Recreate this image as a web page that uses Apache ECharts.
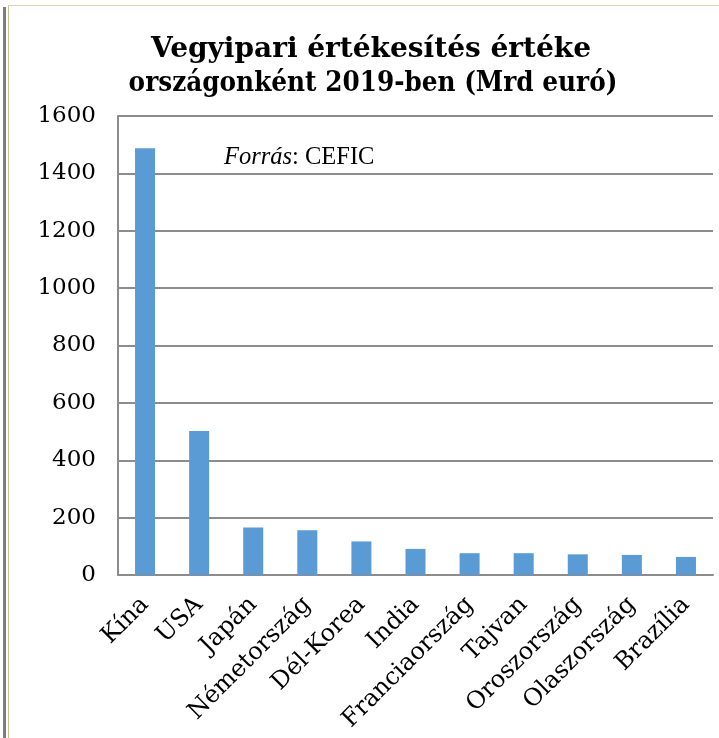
<!DOCTYPE html>
<html>
<head>
<meta charset="utf-8">
<script src="https://cdn.jsdelivr.net/npm/echarts@6/dist/echarts.min.js"></script>
<style>
html,body{margin:0;padding:0;background:#fff;}
#chart{width:719px;height:738px;}
</style>
</head>
<body>
<div id="chart"></div>
<script>
const titleLines = ['Vegyipari értékesítés értéke', 'országonként 2019-ben (Mrd euró)'];
const categories = ['Kína','USA','Japán','Németország','Dél-Korea','India','Franciaország','Tajvan','Oroszország','Olaszország','Brazília'];
const values = [1488, 502, 166, 156, 117, 91, 76, 76, 72, 70, 63];
const yTicks = [0, 200, 400, 600, 800, 1000, 1200, 1400, 1600];

const titleFont = {fontFamily: 'DejaVu Serif', fontWeight: 'bold', fontSize: 28, fill: '#000', align: 'center', verticalAlign: 'middle'};

const chart = echarts.init(document.getElementById('chart'), null, {renderer:'canvas'});
chart.setOption({
  animation: false,
  backgroundColor: '#ffffff',
  grid: {left: 118, right: 6, top: 116, bottom: 163, containLabel: false},
  xAxis: {
    type: 'category',
    data: categories,
    axisLine: {show: true, lineStyle: {color: '#8c8c8c', width: 2}},
    axisTick: {show: false},
    axisLabel: {interval: 0, rotate: 45, margin: 26, verticalAlign: 'middle', fontFamily: 'DejaVu Serif', fontSize: 24, color: '#000'}
  },
  yAxis: {
    type: 'value',
    min: yTicks[0],
    max: yTicks[yTicks.length - 1],
    interval: 200,
    axisLine: {show: true, lineStyle: {color: '#8c8c8c', width: 2}},
    axisTick: {show: false},
    splitLine: {show: true, lineStyle: {color: '#8c8c8c', width: 2}},
    axisLabel: {margin: 22, fontFamily: 'DejaVu Serif', fontSize: 23, color: '#000', formatter: v => String(v)}
  },
  series: [{
    type: 'bar',
    data: values,
    barWidth: '37%',
    itemStyle: {color: '#5b9bd5'}
  }],
  graphic: [
    {type: 'rect', shape: {x: 3, y: 7, width: 3, height: 731}, style: {fill: '#7f7f7f'}},
    {type: 'rect', shape: {x: 8, y: 6, width: 1, height: 732}, style: {fill: '#c9c19a'}},
    {type: 'rect', shape: {x: 8, y: 5, width: 711, height: 1}, style: {fill: '#d9d3b8'}},
    {type: 'text', x: 371, y: 50, style: Object.assign({text: titleLines[0]}, titleFont)},
    {type: 'text', x: 373, y: 84, scaleX: 0.885, style: Object.assign({text: titleLines[1]}, titleFont)},
    {type: 'text', left: 224, top: 145,
     style: {text: '{i|Forrás}{n|: CEFIC}',
       rich: {i: {fontFamily: 'Liberation Serif', fontStyle: 'italic', fontSize: 24.5, fill: '#000'},
              n: {fontFamily: 'Liberation Serif', fontSize: 24.5, fill: '#000'}}}}
  ]
});
</script>
</body>
</html>
